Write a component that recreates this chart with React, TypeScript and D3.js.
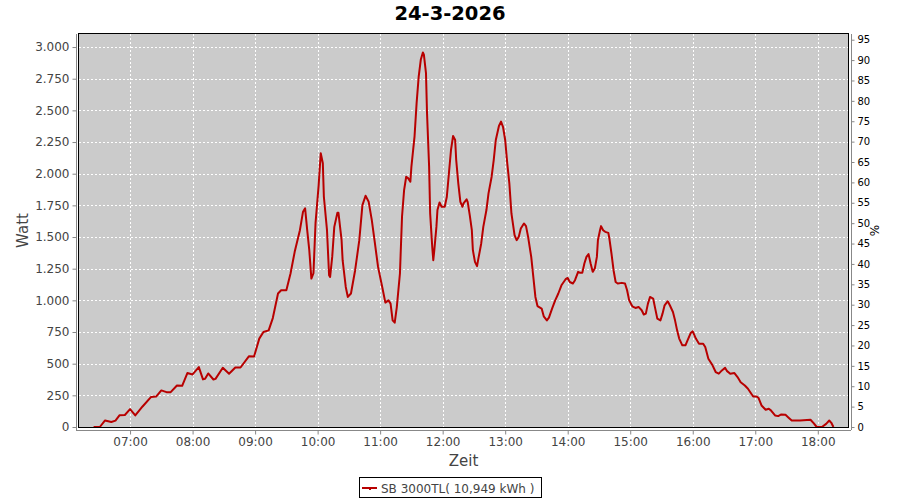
import React, { useEffect, useRef } from 'react'
import * as d3 from 'd3'

const WIDTH = 900
const HEIGHT = 500

const TITLE = '24-3-2026'
const SERIES_NAME = 'SB 3000TL( 10,949 kWh )'

const times = [
  '06:25', '06:31', '06:36', '06:42', '06:46', '06:50', '06:55', '07:00', '07:05', '07:12',
  '07:20', '07:25', '07:30', '07:35', '07:39', '07:45', '07:50', '07:55', '08:00', '08:06',
  '08:10', '08:12', '08:15', '08:20', '08:22', '08:29', '08:35', '08:41', '08:46', '08:54',
  '08:59', '09:04', '09:08', '09:13', '09:17', '09:22', '09:25', '09:30', '09:34', '09:38',
  '09:43', '09:46', '09:48', '09:50', '09:52', '09:54', '09:56', '09:58', '10:01', '10:03',
  '10:05', '10:06', '10:09', '10:11', '10:12', '10:14', '10:16', '10:19', '10:20', '10:23',
  '10:24', '10:27', '10:29', '10:32', '10:36', '10:40', '10:43', '10:46', '10:49', '10:52',
  '10:55', '10:58', '11:02', '11:05', '11:08', '11:10', '11:12', '11:14', '11:16', '11:19',
  '11:21', '11:23', '11:25', '11:27', '11:29', '11:30', '11:33', '11:35', '11:37', '11:39',
  '11:41', '11:42', '11:44', '11:45', '11:47', '11:48', '11:50', '11:51', '11:52', '11:54',
  '11:55', '11:57', '11:59', '12:02', '12:04', '12:06', '12:08', '12:10', '12:12', '12:13',
  '12:15', '12:17', '12:19', '12:20', '12:23', '12:24', '12:26', '12:28', '12:29', '12:31',
  '12:33', '12:34', '12:37', '12:39', '12:42', '12:44', '12:47', '12:49', '12:51', '12:54',
  '12:56', '12:58', '13:00', '13:02', '13:04', '13:06', '13:09', '13:11', '13:13', '13:15',
  '13:18', '13:20', '13:22', '13:25', '13:27', '13:29', '13:31', '13:33', '13:35', '13:37',
  '13:40', '13:42', '13:45', '13:48', '13:51', '13:54', '13:58', '14:00', '14:02', '14:05',
  '14:07', '14:10', '14:12', '14:14', '14:16', '14:18', '14:20', '14:22', '14:24', '14:26',
  '14:28', '14:29', '14:31', '14:32', '14:34', '14:36', '14:39', '14:40', '14:42', '14:44',
  '14:46', '14:48', '14:52', '14:55', '14:57', '14:59', '15:02', '15:05', '15:08', '15:11',
  '15:13', '15:15', '15:17', '15:19', '15:22', '15:24', '15:26', '15:29', '15:31', '15:33',
  '15:36', '15:38', '15:41', '15:43', '15:45', '15:47', '15:50', '15:53', '15:55', '15:58',
  '16:00', '16:03', '16:06', '16:10', '16:12', '16:15', '16:19', '16:22', '16:25', '16:28',
  '16:31', '16:33', '16:36', '16:40', '16:43', '16:46', '16:50', '16:53', '16:58', '17:01',
  '17:03', '17:06', '17:10', '17:13', '17:15', '17:19', '17:22', '17:25', '17:29', '17:32',
  '17:35', '17:43', '17:53', '17:56', '17:59', '18:04', '18:08', '18:11', '18:13', '18:15',
]

const watts = [
  0, 0, 52, 40, 50, 93, 95, 141, 91, 162,
  236, 240, 289, 275, 275, 328, 325, 426, 415, 473,
  376, 380, 423, 375, 380, 468, 420, 470, 470, 558,
  556, 698, 750, 763, 860, 1054, 1080, 1080, 1212, 1383,
  1554, 1700, 1726, 1554, 1396, 1172, 1214, 1610, 1910, 2161,
  2082, 1818, 1554, 1198, 1185, 1343, 1580, 1691, 1691, 1475,
  1317, 1106, 1027, 1054, 1238, 1475, 1752, 1826, 1778, 1633,
  1449, 1264, 1106, 982, 1000, 974, 842, 824, 947, 1212,
  1660, 1871, 1976, 1963, 1937, 2055, 2292, 2557, 2767, 2899,
  2957, 2939, 2794, 2477, 2055, 1686, 1422, 1317, 1396, 1580,
  1713, 1773, 1739, 1739, 1818, 2003, 2187, 2298, 2266, 2108,
  1924, 1778, 1739, 1765, 1797, 1778, 1673, 1554, 1396, 1304,
  1270, 1317, 1449, 1580, 1713, 1845, 1976, 2108, 2266, 2377,
  2411, 2367, 2266, 2082, 1924, 1686, 1515, 1475, 1501, 1568,
  1607, 1586, 1501, 1343, 1185, 1027, 955, 945, 935, 874,
  842, 864, 935, 1000, 1054, 1119, 1167, 1177, 1145, 1133,
  1159, 1225, 1217, 1217, 1291, 1343, 1365, 1291, 1225, 1251,
  1343, 1475, 1554, 1586, 1554, 1541, 1533, 1488, 1370, 1238,
  1145, 1133, 1138, 1133, 1080, 1000, 953, 940, 948, 922,
  888, 895, 974, 1027, 1014, 935, 856, 842, 895, 961,
  993, 961, 908, 842, 763, 698, 645, 645, 684, 742,
  755, 698, 658, 658, 631, 539, 487, 434, 421, 447,
  468, 441, 421, 426, 394, 354, 328, 302, 241, 241,
  231, 170, 136, 144, 131, 91, 86, 99, 96, 73,
  51, 51, 57, 30, 0, 0, 25, 51, 33, 0,
]

const hourTicks = ['07:00', '08:00', '09:00', '10:00', '11:00', '12:00', '13:00', '14:00', '15:00', '16:00', '17:00', '18:00']
const wattTicks = [0, 250, 500, 750, 1000, 1250, 1500, 1750, 2000, 2250, 2500, 2750, 3000]
const percentTicks = d3.range(0, 100, 5)

const FONT = '"DejaVu Sans", sans-serif'
const LINE_COLOR = '#b80000'
const TEXT_COLOR = '#444444'

const App = () => {
  const ref = useRef<SVGSVGElement>(null)

  const drawChart = () => {
    const parse = d3.timeParse('%H:%M')
    const data = times.map((t, i) => ({ t: parse(t) as Date, v: watts[i] }))

    const left = 79
    const right = 848
    const top = 34
    const bottom = 427

    const xScale = d3.scaleTime()
      .domain([parse('06:11') as Date, parse('18:29') as Date])
      .range([left, right])

    const yScale = d3.scaleLinear()
      .domain([0, 3103])
      .range([bottom, top])

    const pScale = d3.scaleLinear()
      .domain([0, 96.4])
      .range([bottom, top])

    const svg = d3.select(ref.current)
    svg.selectAll('*').remove()

    svg.append('rect')
      .attr('width', WIDTH).attr('height', HEIGHT)
      .attr('fill', 'white')

    // title
    svg.append('text')
      .attr('x', 450).attr('y', 20)
      .attr('text-anchor', 'middle')
      .attr('font-family', FONT)
      .attr('font-weight', 'bold')
      .attr('font-size', 19.5)
      .attr('fill', '#000')
      .text(TITLE)

    // plot background
    svg.append('rect')
      .attr('x', left).attr('y', top)
      .attr('width', right - left).attr('height', bottom - top)
      .attr('fill', '#cbcbcb')

    // grid
    const grid = svg.append('g').attr('class', 'grid')
      .attr('stroke', 'white').attr('stroke-width', 1).attr('stroke-dasharray', '2,2')
    grid.selectAll('.gx')
      .data(hourTicks)
      .enter()
      .append('line')
      .attr('x1', (d) => Math.round(xScale(parse(d) as Date)) + 0.5)
      .attr('x2', (d) => Math.round(xScale(parse(d) as Date)) + 0.5)
      .attr('y1', top).attr('y2', bottom)
    grid.selectAll('.gy')
      .data(wattTicks)
      .enter()
      .append('line')
      .attr('x1', left).attr('x2', right)
      .attr('y1', (d) => Math.round(yScale(d)) + 0.5)
      .attr('y2', (d) => Math.round(yScale(d)) + 0.5)

    // series line
    const line = d3.line<{ t: Date, v: number }>()
      .x((d) => xScale(d.t))
      .y((d) => yScale(d.v))
      .curve(d3.curveLinear)

    svg.append('path')
      .datum(data)
      .attr('d', line)
      .attr('fill', 'none')
      .attr('stroke', LINE_COLOR)
      .attr('stroke-width', 2)
      .attr('stroke-linejoin', 'round')

    // plot border
    svg.append('rect')
      .attr('x', left - 0.5).attr('y', top - 0.5)
      .attr('width', right - left + 1).attr('height', bottom - top + 1)
      .attr('fill', 'none')
      .attr('stroke', '#000')

    // left axis
    const yAxis = svg.append('g')
      .attr('transform', 'translate(76.5, 0)')
      .call(d3.axisLeft(yScale)
        .tickValues(wattTicks)
        .tickSize(4)
        .tickPadding(3)
        .tickFormat((d) => d3.format(',')(d as number).replace(/,/g, '.')))
    yAxis.select('.domain').attr('stroke', '#888').attr('d', `M0,${top}V${bottom + 3}`)
    yAxis.selectAll('.tick line').attr('stroke', '#888')
    yAxis.selectAll('.tick text')
      .attr('font-family', FONT).attr('font-size', 12).attr('fill', TEXT_COLOR)

    // right axis
    const pAxis = svg.append('g')
      .attr('transform', 'translate(851.5, 0)')
      .call(d3.axisRight(pScale)
        .tickValues(percentTicks)
        .tickSize(3)
        .tickPadding(3)
        .tickFormat(d3.format('d')))
    pAxis.select('.domain').attr('stroke', '#888').attr('d', `M0,${top}V${bottom + 3}`)
    pAxis.selectAll('.tick line').attr('stroke', '#888')
    pAxis.selectAll('.tick text')
      .attr('font-family', FONT).attr('font-size', 10).attr('fill', '#000')

    // bottom axis
    const xAxis = svg.append('g')
      .attr('transform', 'translate(0, 430.5)')
      .call(d3.axisBottom(xScale)
        .tickValues(hourTicks.map((h) => parse(h) as Date))
        .tickSize(4)
        .tickPadding(3)
        .tickFormat(d3.timeFormat('%H:%M') as any))
    xAxis.select('.domain').attr('stroke', '#888').attr('d', `M${left - 3},0H${right + 3}`)
    xAxis.selectAll('.tick line').attr('stroke', '#888')
    xAxis.selectAll('.tick text')
      .attr('font-family', FONT).attr('font-size', 12).attr('fill', TEXT_COLOR)

    // axis labels
    svg.append('text')
      .attr('x', (left + right) / 2).attr('y', 466)
      .attr('text-anchor', 'middle')
      .attr('font-family', FONT).attr('font-size', 15).attr('fill', TEXT_COLOR)
      .text('Zeit')

    svg.append('text')
      .attr('transform', `translate(28, ${(top + bottom) / 2}) rotate(-90)`)
      .attr('text-anchor', 'middle')
      .attr('font-family', FONT).attr('font-size', 15).attr('fill', TEXT_COLOR)
      .text('Watt')

    svg.append('text')
      .attr('transform', `translate(879, ${(top + bottom) / 2}) rotate(-90)`)
      .attr('text-anchor', 'middle')
      .attr('font-family', FONT).attr('font-size', 12).attr('fill', '#000')
      .text('%')

    // legend
    const legend = svg.append('g').attr('class', 'legend')
    legend.append('rect')
      .attr('x', 359.5).attr('y', 477.5)
      .attr('width', 182).attr('height', 20)
      .attr('fill', 'white').attr('stroke', '#000')
    legend.append('line')
      .attr('x1', 362).attr('x2', 377)
      .attr('y1', 488).attr('y2', 488)
      .attr('stroke', LINE_COLOR).attr('stroke-width', 2)
    legend.append('rect')
      .attr('x', 369).attr('y', 488)
      .attr('width', 2).attr('height', 2)
      .attr('fill', LINE_COLOR)
    legend.append('text')
      .attr('x', 381).attr('y', 492.5)
      .attr('font-family', FONT).attr('font-size', 12).attr('fill', TEXT_COLOR)
      .text(SERIES_NAME)
  }

  useEffect(() => {
    drawChart()
  }, [])

  return (
    <svg ref={ref} width={WIDTH} height={HEIGHT} style={{ display: 'block', position: 'absolute', left: 0, top: 0 }}></svg>
  )
}

export default App
